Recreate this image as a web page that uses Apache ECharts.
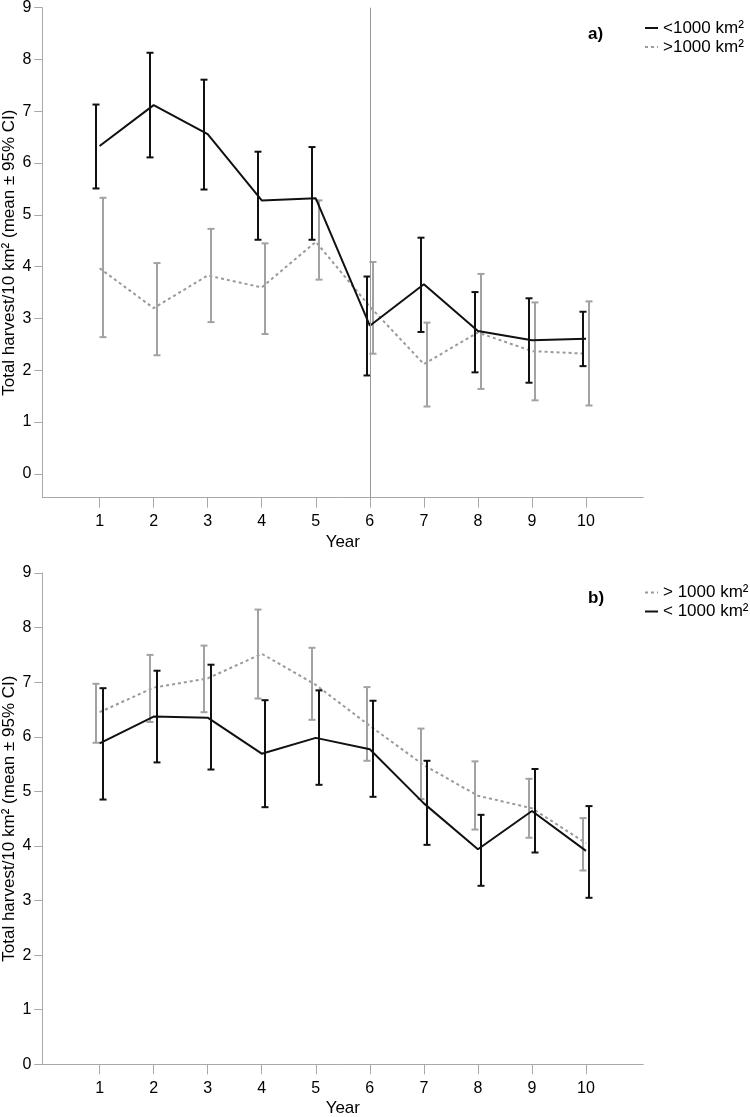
<!DOCTYPE html>
<html><head><meta charset="utf-8">
<script src="https://cdn.jsdelivr.net/npm/echarts@6/dist/echarts.min.js"></script>
<style>html,body{margin:0;padding:0;background:#fff}#c{width:750px;height:1117px}</style>
</head><body><div id="c"></div>
<script>
const years = [1,2,3,4,5,6,7,8,9,10];
const yTicks = [0,1,2,3,4,5,6,7,8,9];
// Panel a
const aSmallMean = [6.33,7.12,6.56,5.28,5.32,2.86,3.66,2.76,2.58,2.61];
const aSmallLow  = [5.51,6.11,5.49,4.52,4.52,1.90,2.74,1.96,1.76,2.08];
const aSmallHigh = [7.13,8.13,7.61,6.22,6.31,3.81,4.56,3.51,3.39,3.13];
const aLargeMean = [3.97,3.20,3.83,3.60,4.48,3.23,2.12,2.73,2.37,2.32];
const aLargeLow  = [2.64,2.29,2.93,2.70,3.75,2.32,1.30,1.64,1.42,1.32];
const aLargeHigh = [5.33,4.07,4.73,4.45,5.28,4.09,2.92,3.86,3.31,3.33];
// Panel b
const bLargeMean = [6.45,6.90,7.07,7.52,6.95,6.20,5.48,4.92,4.69,4.05];
const bLargeLow  = [5.89,6.27,6.45,6.70,6.31,5.56,4.86,4.30,4.15,3.55];
const bLargeHigh = [6.97,7.50,7.67,8.33,7.63,6.91,6.15,5.55,5.23,4.51];
const bSmallMean = [5.88,6.37,6.35,5.69,5.98,5.77,4.78,3.94,4.64,3.91];
const bSmallLow  = [4.85,5.53,5.40,4.71,5.12,4.90,4.02,3.27,3.88,3.05];
const bSmallHigh = [6.89,7.21,7.32,6.67,6.85,6.66,5.56,4.57,5.41,4.73];
const refYear = 6;

const F = '"Liberation Sans", Arial, sans-serif';
const BLACK = '#111111', GRAY = '#a2a2a2', GRAYLINE = '#9a9a9a', AXIS = '#a8a8a8';

function pairs(m){ return years.map((y,i)=>[y,m[i]]); }
function errs(lo,hi){ return years.map((y,i)=>[y,lo[i],hi[i]]); }
function errRender(offset, color){
  return function(params, api){
    const x = api.value(0), lo = api.value(1), hi = api.value(2);
    const pLo = api.coord([x, lo]), pHi = api.coord([x, hi]);
    const cx = Math.round(pLo[0] + offset), hw = 3.5;
    const st = {stroke: color, lineWidth: 2, fill: null};
    return {type:'group', children:[
      {type:'line', shape:{x1:cx,y1:pHi[1],x2:cx,y2:pLo[1]}, style:st},
      {type:'line', shape:{x1:cx-hw,y1:pHi[1],x2:cx+hw,y2:pHi[1]}, style:st},
      {type:'line', shape:{x1:cx-hw,y1:pLo[1],x2:cx+hw,y2:pLo[1]}, style:st}
    ]};
  };
}
function xAx(g){
  return {type:'value', gridIndex:g, min:-0.06, max:11.06,
    name:'Year', nameLocation:'middle', nameGap:36, nameMoveOverlap:false,
    nameTextStyle:{fontSize:17, color:'#000', fontFamily:F},
    axisLine:{onZero:false, lineStyle:{color:AXIS, width:1}},
    axisTick:{show:true, length:10, customValues:years, lineStyle:{color:AXIS}},
    axisLabel:{customValues:years, fontSize:16, color:'#000', margin:16, fontFamily:F},
    splitLine:{show:false}};
}
function yAx(g, min){
  return {type:'value', gridIndex:g, min:min, max:9,
    name:'Total harvest/10 km² (mean ± 95% CI)', nameLocation:'middle', nameGap:24, nameMoveOverlap:false,
    nameTextStyle:{fontSize:17, color:'#000', fontFamily:F},
    axisLine:{show:true, onZero:false, lineStyle:{color:AXIS, width:1}},
    axisTick:{show:true, length:8, customValues:yTicks, lineStyle:{color:AXIS}},
    axisLabel:{customValues:yTicks, fontSize:16, color:'#000', margin:11, fontFamily:F},
    splitLine:{show:false}};
}
function lineS(name, g, data, color, dash, extra){
  return Object.assign({type:'line', name:name, xAxisIndex:g, yAxisIndex:g, data:data,
    symbol:'none', showSymbol:false, silent:true, animation:false,
    lineStyle:{color:color, width:2, type:dash}, itemStyle:{color:color}}, extra||{});
}
function errS(g, data, offset, color){
  return {type:'custom', xAxisIndex:g, yAxisIndex:g, data:data, silent:true, animation:false,
    renderItem: errRender(offset, color), z:3};
}
function legendOpt(names, top){
  return {data:names, orient:'vertical', left:644, top:top, padding:0,
    itemWidth:13, itemHeight:14, itemGap:2, selectedMode:false,
    itemStyle:{opacity:0}, lineStyle:{width:2},
    textStyle:{fontSize:17, color:'#000', fontFamily:F}};
}

const chart = echarts.init(document.getElementById('c'), null, {renderer:'canvas'});
chart.setOption({
  animation:false,
  backgroundColor:'#fff',
  textStyle:{fontFamily:F},
  title:[
    {text:'a)', left:588, top:26, padding:0, textStyle:{fontSize:17, fontWeight:'bold', color:'#000', fontFamily:F}},
    {text:'b)', left:588, top:590, padding:0, textStyle:{fontSize:17, fontWeight:'bold', color:'#000', fontFamily:F}}
  ],
  legend:[
    legendOpt(['<1000 km²','>1000 km²'], 19.5),
    legendOpt(['> 1000 km²','< 1000 km²'], 584)
  ],
  grid:[
    {left:42.3, top:7.7, width:601, height:490, containLabel:false, outerBoundsMode:'none'},
    {left:42.3, top:573, width:601, height:491.3, containLabel:false, outerBoundsMode:'none'}
  ],
  xAxis:[xAx(0), xAx(1)],
  yAxis:[yAx(0,-0.46), yAx(1,0)],
  series:[
    errS(0, errs(aLargeLow,aLargeHigh), 3.3, GRAY),
    lineS('>1000 km²', 0, pairs(aLargeMean), GRAYLINE, [3,3], {z:2}),
    errS(0, errs(aSmallLow,aSmallHigh), -3.3, BLACK),
    lineS('<1000 km²', 0, pairs(aSmallMean), BLACK, 'solid', {z:4,
      markLine:{silent:true, symbol:['none','none'], label:{show:false}, animation:false,
        lineStyle:{color:'#999', width:1, type:'solid'}, data:[{xAxis:refYear}]}}),
    errS(1, errs(bLargeLow,bLargeHigh), -3.3, GRAY),
    lineS('> 1000 km²', 1, pairs(bLargeMean), GRAYLINE, [3,3], {z:2}),
    errS(1, errs(bSmallLow,bSmallHigh), 3.3, BLACK),
    lineS('< 1000 km²', 1, pairs(bSmallMean), BLACK, 'solid', {z:4})
  ]
});
</script></body></html>
